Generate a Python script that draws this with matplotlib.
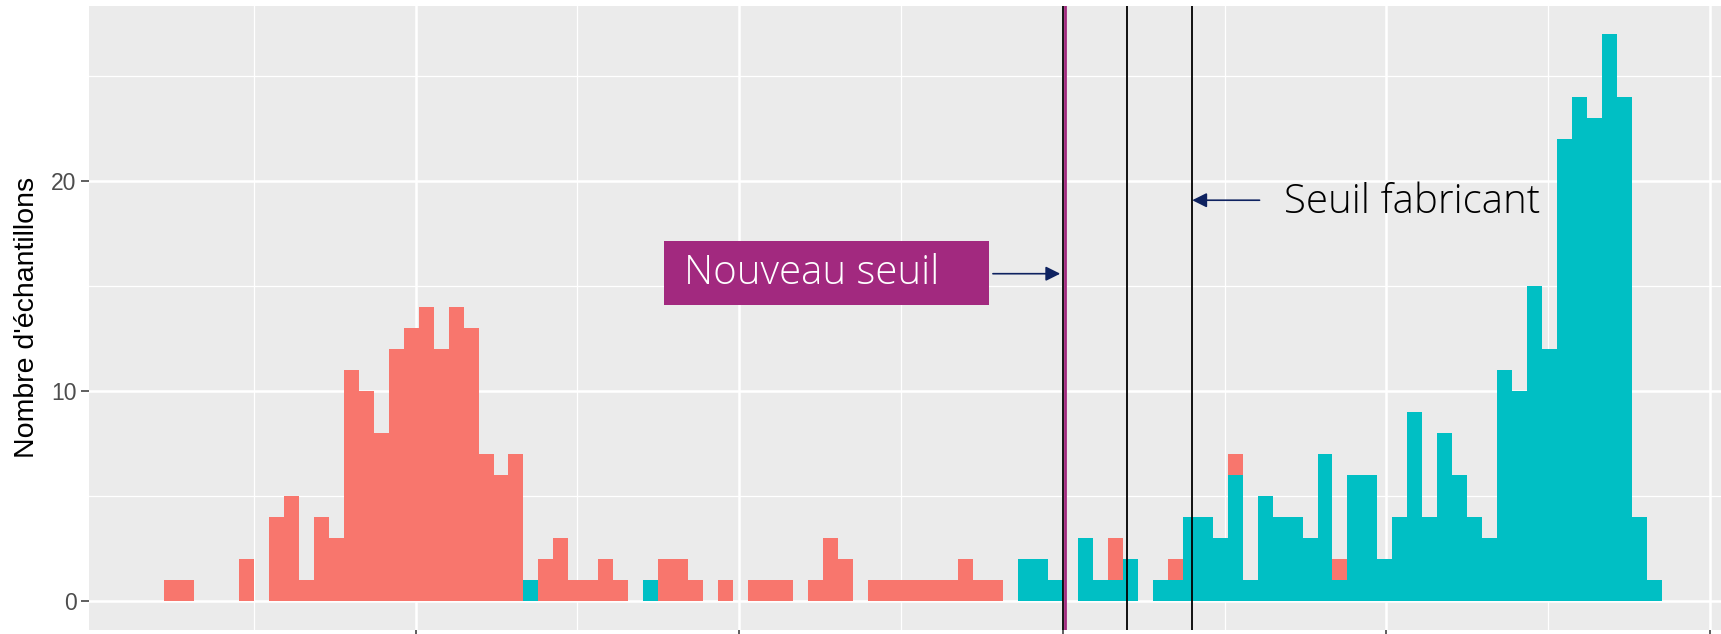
import numpy as np
import matplotlib
matplotlib.use("Agg")
import matplotlib.pyplot as plt
from matplotlib.patches import Rectangle

# histogram counts per bin (100 bins), stacked: teal at the bottom, red on top
counts_red = [1, 1, 0, 0, 0, 2, 0, 4, 5, 1,
              4, 3, 11, 10, 8, 12, 13, 14, 12, 14,
              13, 7, 6, 7, 0, 2, 3, 1, 1, 2,
              1, 0, 0, 2, 2, 1, 0, 1, 0, 1,
              1, 1, 0, 1, 3, 2, 0, 1, 1, 1,
              1, 1, 1, 2, 1, 1, 0, 0, 0, 0,
              0, 0, 0, 2, 0, 0, 0, 1, 0, 0,
              0, 1, 0, 0, 0, 0, 0, 0, 1, 0,
              0, 0, 0, 0, 0, 0, 0, 0, 0, 0,
              0, 0, 0, 0, 0, 0, 0, 0, 0, 0]
counts_teal = [0, 0, 0, 0, 0, 0, 0, 0, 0, 0,
               0, 0, 0, 0, 0, 0, 0, 0, 0, 0,
               0, 0, 0, 0, 1, 0, 0, 0, 0, 0,
               0, 0, 1, 0, 0, 0, 0, 0, 0, 0,
               0, 0, 0, 0, 0, 0, 0, 0, 0, 0,
               0, 0, 0, 0, 0, 0, 0, 2, 2, 1,
               0, 3, 1, 1, 2, 0, 1, 1, 4, 4,
               3, 6, 1, 5, 4, 4, 3, 7, 1, 6,
               6, 2, 4, 9, 4, 8, 6, 4, 3, 11,
               10, 15, 12, 22, 24, 23, 27, 24, 4, 1]
bin_start = 0.222
bin_width = 0.0463

thresholds_black = [3.0, 3.197, 3.40]
threshold_new = 3.006
y_ticks = [0, 10, 20]
x_ticks = [1, 2, 3, 4, 5]

RED = "#F8766D"
TEAL = "#00BFC4"
MAGENTA = "#A2297F"
NAVY = "#0E2260"

plt.rcParams["font.family"] = ["Liberation Sans", "DejaVu Sans"]

fig = plt.figure(figsize=(17.21, 6.34), dpi=100)
ax = fig.add_axes([89 / 1721, 4.4 / 634, 1648 / 1721, 623.6 / 634])

red = np.array(counts_red)
teal = np.array(counts_teal)
left = bin_start + bin_width * np.arange(len(red))

ax.bar(left, teal, width=bin_width, align="edge", color=TEAL, linewidth=0, zorder=2)
ax.bar(left, red, width=bin_width, bottom=teal, align="edge", color=RED, linewidth=0, zorder=2)

# ggplot-style expansion
lo, hi = left[0], left[-1] + bin_width
span = hi - lo
ax.set_xlim(lo - 0.05 * span, hi + 0.05 * span)
ymax = (red + teal).max()
ax.set_ylim(-0.05 * ymax, ymax * 1.05)

# theme_grey look
ax.set_facecolor("#EBEBEB")
for s in ax.spines.values():
    s.set_visible(False)
ax.set_xticks(x_ticks)
ax.set_xticklabels([])
ax.set_xticks([t - 0.5 for t in x_ticks], minor=True)
ax.set_yticks(y_ticks)
ax.set_yticks([5, 15, 25], minor=True)
ax.grid(which="major", color="white", lw=1.8, zorder=0)
ax.grid(which="minor", color="white", lw=0.9, zorder=0)
ax.set_axisbelow(True)
ax.tick_params(which="major", length=6, width=1.1, color="#333333",
               labelsize=16.5, labelcolor="#4D4D4D", pad=3)
ax.tick_params(which="minor", length=0)
ax.set_ylabel("Nombre d'échantillons", fontsize=20.5, labelpad=8)

# threshold lines
for t in thresholds_black:
    ax.axvline(t, color="black", lw=1.3, zorder=3)
ax.axvline(threshold_new, color=MAGENTA, lw=2.0, zorder=4)

# annotations
ann_font = ["Open Sans", "DejaVu Sans"]
ax.add_patch(Rectangle((1.768, 14.13), 1.004, 3.04, facecolor=MAGENTA,
                       edgecolor="none", zorder=5))
ax.text(1.828, 15.62, "Nouveau seuil", color="white", fontsize=29,
        family=ann_font, fontweight="light", va="center", ha="left", zorder=6)
ax.annotate("", xy=(2.992, 15.6), xytext=(2.784, 15.6),
            arrowprops=dict(arrowstyle="-|>", color=NAVY, lw=1.2,
                            mutation_scale=22, shrinkA=0, shrinkB=0), zorder=6)

ax.text(3.682, 19.0, "Seuil fabricant", color="black", fontsize=29,
        family=ann_font, fontweight="light", va="center", ha="left", zorder=6)
ax.annotate("", xy=(3.40, 19.1), xytext=(3.608, 19.1),
            arrowprops=dict(arrowstyle="-|>", color=NAVY, lw=1.2,
                            mutation_scale=22, shrinkA=0, shrinkB=0), zorder=6)

fig.savefig("out.png", dpi=100)
